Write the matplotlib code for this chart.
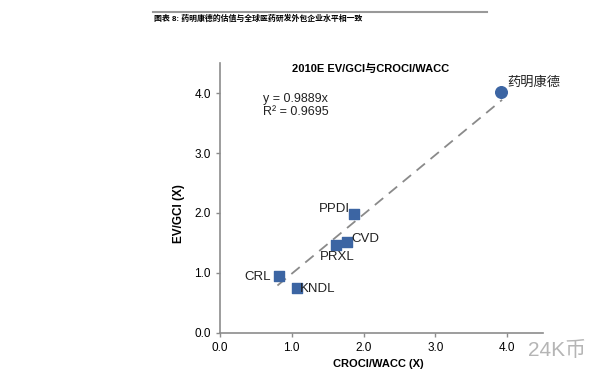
import numpy as np
import matplotlib.pyplot as plt
from matplotlib.lines import Line2D

plt.rcParams['font.family'] = ['Liberation Sans', 'Noto Sans CJK SC', 'DejaVu Sans']

# datos
nombres = ['药明康德', 'PPDI', 'CVD', 'PRXL', 'CRL', 'KNDL']
croci_wacc = [3.92, 1.87, 1.77, 1.62, 0.82, 1.07]
ev_gci = [4.02, 1.98, 1.52, 1.46, 0.95, 0.75]
pendiente = 0.9889
r2 = 0.9695
rango_tendencia = [0.80, 3.93]
ticks = [0.0, 1.0, 2.0, 3.0, 4.0]

azul = '#3c65a3'
gris = '#8c8c8c'

fig = plt.figure(figsize=(6, 3.76), dpi=100)
ax = fig.add_axes([0.3667, 0.1144, 0.5383, 0.718])

# línea de tendencia
xt = np.array(rango_tendencia)
ax.plot(xt, pendiente * xt, color='#8a8a8a', lw=1.3, ls=(0, (6, 4)), zorder=1)

# puntos
ax.scatter(croci_wacc[1:], ev_gci[1:], marker='s', s=42, color=azul, zorder=3)
ax.scatter(croci_wacc[:1], ev_gci[:1], marker='o', s=70, color=azul, zorder=3)

# etiquetas de los puntos
desp = {'药明康德': (4, 2, 'left', 'bottom'), 'PPDI': (-3, 4, 'right', 'center'),
        'CVD': (3, 2, 'left', 'center'), 'PRXL': (1, -4, 'center', 'top'),
        'CRL': (-6, -1, 'right', 'center'), 'KNDL': (2, -1, 'left', 'center')}
for n, x, y in zip(nombres, croci_wacc, ev_gci):
    dx, dy, ha, va = desp[n]
    ax.annotate(n, (x, y), xytext=(dx, dy), textcoords='offset points',
                ha=ha, va=va, fontsize=9.5, color='#222222')

ax.set_xlim(0, 4.5)
ax.set_ylim(0, 4.5)
ax.set_xticks(ticks)
ax.set_yticks(ticks)
ax.set_xticklabels([f'{t:.1f}' for t in ticks], fontsize=8.5)
ax.set_yticklabels([f'{t:.1f}' for t in ticks], fontsize=8.5)
for s in ['top', 'right']:
    ax.spines[s].set_visible(False)
for s in ['left', 'bottom']:
    ax.spines[s].set_color(gris)
    ax.spines[s].set_linewidth(1.2)
ax.tick_params(length=3, color=gris, width=1)

ax.set_xlabel('CROCI/WACC (X)', fontsize=8, fontweight='bold')
ax.set_ylabel('EV/GCI (X)', fontsize=8.5, fontweight='bold')
ax.xaxis.set_label_coords(0.49, -0.098)
ax.yaxis.set_label_coords(-0.108, 0.444)

ax.text(0.6, 4.0, f'y = {pendiente}x\nR² = {r2}', fontsize=9, va='top',
        linespacing=1.1, color='#222222')

fig.text(0.617, 0.818, '2010E EV/GCI与CROCI/WACC', ha='center', va='center',
         fontsize=8, fontweight='bold')

# encabezado del informe
fig.add_artist(Line2D([0.255, 0.812], [0.969, 0.969], transform=fig.transFigure,
                      color='#999999', lw=1.5))
fig.text(0.256, 0.951, '图表 8: 药明康德的估值与全球医药研发外包企业水平相一致',
         fontsize=5.7, fontweight='bold', va='center', ha='left')

# marca de agua
fig.text(0.88, 0.068, '24K币', fontsize=15, color='#b5b5b5', ha='left', va='center')

fig.savefig('out.png', dpi=100)
